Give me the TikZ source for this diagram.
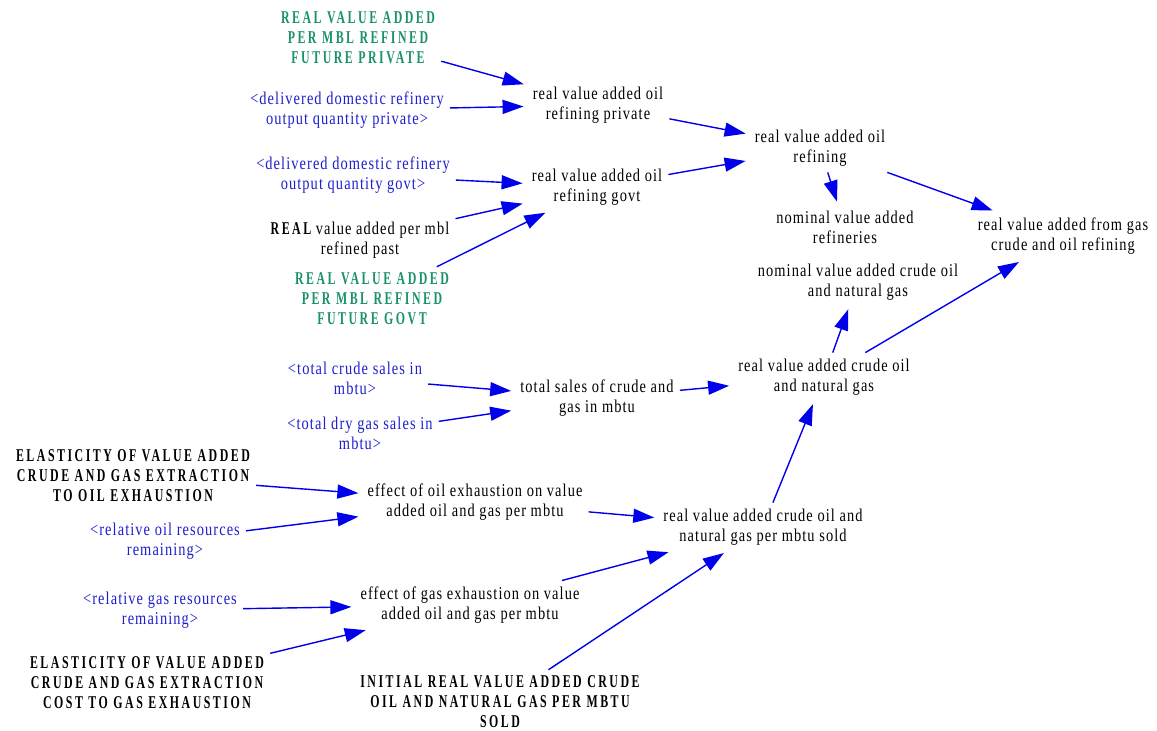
\documentclass[tikz,border=0pt]{standalone}
\usepackage{fontspec}
\setmainfont{Liberation Serif}[FakeStretch=0.8,LetterSpace=6]
\newfontfamily\capsfont{Liberation Serif}[FakeStretch=0.66,LetterSpace=14]
\usetikzlibrary{arrows.meta}
\definecolor{shadowblue}{RGB}{30,30,205}
\definecolor{constgreen}{RGB}{25,145,105}
\definecolor{linkblue}{RGB}{0,0,235}
\tikzset{
  var/.style={align=center, inner sep=6pt, font=\fontsize{18}{20}\selectfont},
  shadow/.style={var, text=shadowblue},
  const/.style={var, font=\fontsize{18}{20}\selectfont\capsfont\bfseries},
  cnst/.style={const, text=constgreen},
  link/.style={-{Triangle[length=21pt,width=14pt]}, line width=1.4pt, linkblue,
               shorten >=3pt}
}
\begin{document}
\begin{tikzpicture}[x=1pt,y=-1pt]
\useasboundingbox (0,0) rectangle (1157,731);
% refining
\node[cnst]   (fpriv)  at (358,38)  {REAL VALUE ADDED\\PER MBL REFINED\\FUTURE PRIVATE};
\node[shadow] (ddpriv) at (347,110) {<delivered domestic refinery\\output quantity private>};
\node[var]    (rvaprv) at (598,105) {real value added oil\\refining private};
\node[shadow] (ddgov)  at (353,175) {<delivered domestic refinery\\output quantity govt>};
\node[var]    (rvagov) at (597,187) {real value added oil\\refining govt};
\node[var]    (past)   at (360,240) {{\capsfont\bfseries REAL} value added per mbl\\refined past};
\node[cnst]   (fgov)   at (372,299) {REAL VALUE ADDED\\PER MBL REFINED\\FUTURE GOVT};
\node[var]    (rvaref) at (820,148) {real value added oil\\refining};
\node[var]    (nomref) at (845,227) {nominal value added\\refineries};
\node[var]    (rvaall) at (1063,236) {real value added from gas\\crude and oil refining};
% crude and gas
\node[var]    (nomcrg) at (858,282) {nominal value added crude oil\\and natural gas};
\node[var]    (rvacrg) at (824,377) {real value added crude oil\\and natural gas};
\node[shadow] (tcs)    at (355,378) {<total crude sales in\\mbtu>};
\node[shadow] (tdgs)   at (360,433) {<total dry gas sales in\\mbtu>};
\node[var]    (tsales) at (597,398) {total sales of crude and\\gas in mbtu};
\node[const]  (elo)    at (133,476) {ELASTICITY OF VALUE ADDED\\CRUDE AND GAS EXTRACTION\\TO OIL EXHAUSTION};
\node[shadow] (relo)   at (165,541) {<relative oil resources\\remaining>};
\node[var]    (effo)   at (475,502) {effect of oil exhaustion on value\\added oil and gas per mbtu};
\node[var]    (rvapm)  at (763,527) {real value added crude oil and\\natural gas per mbtu sold};
\node[shadow] (relg)   at (160,610) {<relative gas resources\\remaining>};
\node[var]    (effg)   at (470,605) {effect of gas exhaustion on value\\added oil and gas per mbtu};
\node[const]  (elg)    at (147,683) {ELASTICITY OF VALUE ADDED\\CRUDE AND GAS EXTRACTION\\COST TO GAS EXHAUSTION};
\node[const]  (init)   at (500,702) {INITIAL REAL VALUE ADDED CRUDE\\OIL AND NATURAL GAS PER MBTU\\SOLD};
% links
\foreach \a/\b in {fpriv/rvaprv, ddpriv/rvaprv, rvaprv/rvaref, rvagov/rvaref,
                   ddgov/rvagov, past/rvagov, fgov/rvagov, rvaref/nomref,
                   rvaref/rvaall, rvacrg/nomcrg, rvacrg/rvaall, tcs/tsales,
                   tdgs/tsales, tsales/rvacrg, rvapm/rvacrg, elo/effo,
                   relo/effo, effo/rvapm, effg/rvapm, relg/effg, elg/effg,
                   init/rvapm}
  \draw[link] (\a) -- (\b);
\end{tikzpicture}
\end{document}
